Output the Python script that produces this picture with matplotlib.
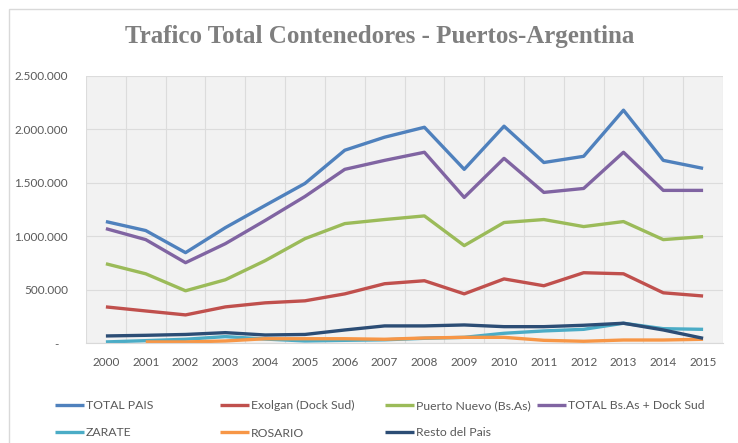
import matplotlib.pyplot as plt
import matplotlib.ticker as mticker
import numpy as np

years = [str(y) for y in range(2000, 2016)]

total_pais = [1137000, 1053000, 846000, 1080000, 1288000, 1494000, 1805000, 1927000,
              2020000, 1626000, 2030000, 1690000, 1748000, 2180000, 1710000, 1635000]
exolgan = [338000, 300000, 263000, 338000, 376000, 395000, 460000, 555000,
           583000, 460000, 600000, 536000, 658000, 648000, 470000, 440000]
puerto_nuevo = [742000, 648000, 489000, 592000, 771000, 977000, 1118000, 1156000,
                1190000, 912000, 1128000, 1156000, 1090000, 1137000, 968000, 996000]
total_bsas = [1071000, 968000, 752000, 930000, 1147000, 1372000, 1626000, 1710000,
              1786000, 1363000, 1729000, 1410000, 1447000, 1786000, 1429000, 1429000]
zarate = [10000, 22000, 35000, 60000, 37000, 19000, 25000, 30000,
          44000, 53000, 91000, 113000, 128000, 185000, 134000, 128000]
rosario = [np.nan, 10000, 10000, 19000, 40000, 40000, 40000, 35000,
           47000, 53000, 53000, 25000, 16000, 28000, 28000, 35000]
resto = [66000, 72000, 80000, 97000, 75000, 80000, 122000, 160000,
         160000, 169000, 153000, 153000, 166000, 185000, 122000, 44000]

series = [
    ("TOTAL PAIS", total_pais, "#4F81BD"),
    ("Exolgan (Dock Sud)", exolgan, "#C0504D"),
    ("Puerto Nuevo (Bs.As)", puerto_nuevo, "#9BBB59"),
    ("TOTAL Bs.As + Dock Sud", total_bsas, "#8064A2"),
    ("ZARATE", zarate, "#4BACC6"),
    ("ROSARIO", rosario, "#F79646"),
    ("Resto del Pais", resto, "#2C4D75"),
]

plt.rcParams['font.family'] = ['Lato', 'DejaVu Sans']

fig = plt.figure(figsize=(7.38, 4.43), dpi=100)
# borde del grafico
fig.patches.append(plt.Rectangle((9 / 738, -0.1), 1.2, 1 - 9 / 443 + 0.1, transform=fig.transFigure,
                                 fill=False, edgecolor="#d9d9d9", linewidth=1))
ax = fig.add_axes([86 / 738, 1 - 343 / 443, 637 / 738, 267 / 443])
ax.set_facecolor("#f2f2f2")

x = np.arange(len(years))
lines = {}
for name, vals, col in series:
    ln, = ax.plot(x, vals, color=col, linewidth=2.4, label=name, solid_capstyle='butt')
    lines[name] = ln

ax.set_xlim(-0.5, len(years) - 0.5)
ax.set_ylim(0, 2500000)
ax.set_xticks(x)
ax.set_xticklabels(years)
ax.set_xticks(np.arange(-0.5, len(years), 0.5), minor=True)
ax.set_yticks(np.arange(0, 2500001, 500000))
ax.yaxis.set_major_formatter(mticker.FuncFormatter(
    lambda v, p: "-   " if v == 0 else f"{int(v):,}".replace(",", ".")))

ax.grid(True, which='minor', axis='x', color="#dcdcdc", linewidth=0.8)
ax.grid(True, which='major', axis='y', color="#dcdcdc", linewidth=0.8)
ax.set_axisbelow(True)
for s in ['top', 'right', 'left']:
    ax.spines[s].set_visible(False)
ax.spines['bottom'].set_color("#d9d9d9")
ax.tick_params(which='both', length=0)
ax.tick_params(axis='x', pad=10, labelsize=8.5, labelcolor="#595959")
ax.tick_params(axis='y', pad=13, labelsize=8.5, labelcolor="#595959")

fig.text(380 / 738, 1 - 36 / 443, "Trafico Total Contenedores - Puertos-Argentina",
         ha='center', va='center', fontsize=18, fontweight='bold',
         family='Liberation Serif', color="#7f7f7f")

# leyenda en 4 columnas
cols = [(55, ["TOTAL PAIS", "ZARATE"]),
        (220, ["Exolgan (Dock Sud)", "ROSARIO"]),
        (385, ["Puerto Nuevo (Bs.As)", "Resto del Pais"]),
        (537, ["TOTAL Bs.As + Dock Sud"])]
for xpos, names in cols:
    leg = fig.legend([lines[n] for n in names], names, loc='upper left',
                     bbox_to_anchor=(xpos / 738, 1 - 400 / 443), frameon=False,
                     fontsize=8.8, handlelength=2.4, handletextpad=0.1,
                     labelspacing=1.35, borderpad=0, borderaxespad=0)
    for t in leg.get_texts():
        t.set_color("#595959")

fig.savefig("out.png", dpi=100)
